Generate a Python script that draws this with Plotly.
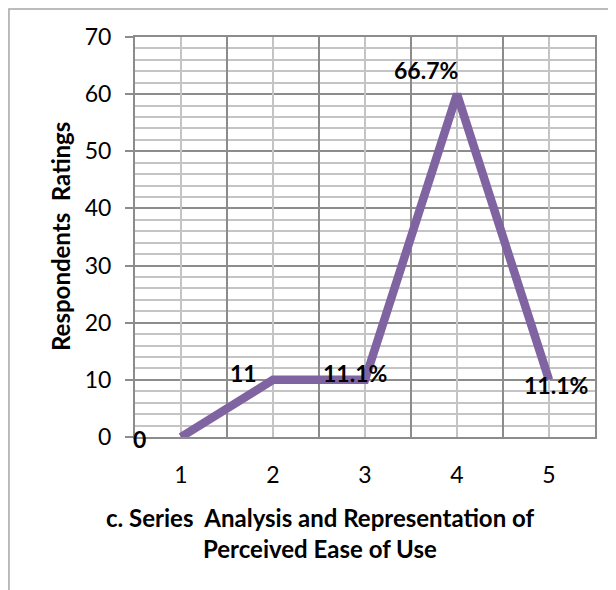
import plotly.graph_objects as go

categories = [1, 2, 3, 4, 5]
ratings = [0, 10, 10, 60, 10]
point_labels = ["0", "11", "11.1%", "66.7%", "11.1%"]
label_xshift = [-42, -30, -10, -31, 7]
label_yshift = [-2, 7, 7, 24, -5]
y_ticks = [0, 10, 20, 30, 40, 50, 60, 70]
category_bounds = [c - 0.5 for c in categories] + [categories[-1] + 0.5]

FONT = "Lato"
MAJOR = "#8c8c8c"
MINOR = "#c4c4c4"
PURPLE = "#8064A2"

fig = go.Figure()
fig.add_trace(go.Scatter(
    x=categories, y=ratings, mode="lines",
    line=dict(color=PURPLE, width=8.5),
    hoverinfo="skip", showlegend=False,
))

for xv, yv, t, dx, dy in zip(categories, ratings, point_labels, label_xshift, label_yshift):
    fig.add_annotation(x=xv, y=yv, text=f"<b>{t}</b>", showarrow=False,
                       xshift=dx, yshift=dy, xanchor="center", yanchor="middle",
                       font=dict(family=FONT, size=23, color="black"))

xrange = [category_bounds[0], category_bounds[-1]]
fig.update_xaxes(
    range=xrange, tickvals=category_bounds, showticklabels=False,
    showgrid=True, gridcolor=MAJOR, gridwidth=2, ticks="",
    showline=True, linecolor=MAJOR, linewidth=2, mirror=True,
    zeroline=False,
)
fig.update_layout(xaxis2=dict(
    overlaying="x", side="bottom", range=xrange,
    tickvals=categories, ticktext=[str(c) for c in categories],
    showgrid=True, gridcolor=MINOR, gridwidth=2, ticks="",
    showline=False, zeroline=False, ticklabelstandoff=22,
    tickfont=dict(family=FONT, size=23, color="black"),
))
fig.add_trace(go.Scatter(x=[None], y=[None], xaxis="x2", showlegend=False, hoverinfo="skip"))

fig.update_yaxes(
    range=[0, 70], tickvals=y_ticks,
    showgrid=True, gridcolor=MAJOR, gridwidth=2,
    ticks="outside", ticklen=8, tickcolor=MAJOR, tickwidth=2,
    minor=dict(dtick=2, showgrid=True, gridcolor=MINOR, gridwidth=2, ticks=""),
    showline=True, linecolor=MAJOR, linewidth=2, mirror=True,
    zeroline=False, ticklabelstandoff=9,
    tickfont=dict(family=FONT, size=23, color="black"),
)

fig.add_annotation(xref="paper", yref="paper", x=-0.163, y=0.5,
                   xanchor="center", yanchor="middle",
                   text="<b>Respondents\u00a0\u00a0Ratings</b>", textangle=-90,
                   showarrow=False, font=dict(family=FONT, size=24, color="black"))
fig.add_annotation(xref="paper", yref="paper", x=0.402, y=-0.2,
                   xanchor="center", yanchor="middle",
                   text="<b>c. Series\u00a0\u00a0Analysis and Representation of</b>",
                   showarrow=False, font=dict(family=FONT, size=24, color="black"))
fig.add_annotation(xref="paper", yref="paper", x=0.402, y=-0.2775,
                   xanchor="center", yanchor="middle",
                   text="<b>Perceived Ease of Use</b>",
                   showarrow=False, font=dict(family=FONT, size=24, color="black"))

fig.add_shape(type="rect", xref="paper", yref="paper",
              x0=-0.274, y0=-0.6, x1=1.2, y1=1.07,
              line=dict(color="#a6a6a6", width=1.5), layer="below")

fig.update_layout(
    width=608, height=582,
    margin=dict(l=127, r=21, t=29, b=153),
    paper_bgcolor="white", plot_bgcolor="white",
    showlegend=False,
)

fig.write_html("out.html")
